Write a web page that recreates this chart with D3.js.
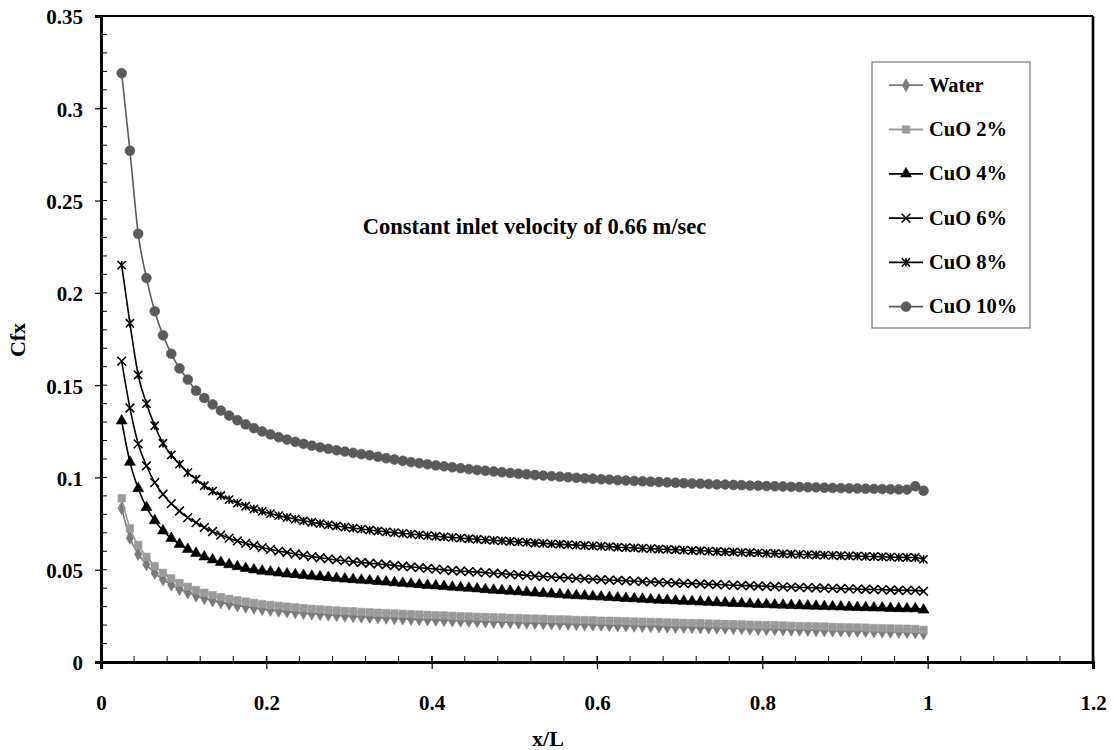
<!DOCTYPE html>
<html>
<head>
<meta charset="utf-8">
<script src="https://cdn.jsdelivr.net/npm/d3@7"></script>
<style>
  html, body { margin: 0; padding: 0; background: #fff; }
  svg { display: block; font-family: "Liberation Serif", "Times New Roman", serif; }
</style>
</head>
<body>
<svg id="chart" width="1114" height="750"></svg>
<script>
// Dimensionless axial position x/L
const xPos = [0.025,0.035,0.045,0.055,0.065,0.075,0.085,0.095,0.105,0.115,
  0.125,0.135,0.145,0.155,0.165,0.175,0.185,0.195,0.205,0.215,
  0.225,0.235,0.245,0.255,0.265,0.275,0.285,0.295,0.305,0.315,
  0.325,0.335,0.345,0.355,0.365,0.375,0.385,0.395,0.405,0.415,
  0.425,0.435,0.445,0.455,0.465,0.475,0.485,0.495,0.505,0.515,
  0.525,0.535,0.545,0.555,0.565,0.575,0.585,0.595,0.605,0.615,
  0.625,0.635,0.645,0.655,0.665,0.675,0.685,0.695,0.705,0.715,
  0.725,0.735,0.745,0.755,0.765,0.775,0.785,0.795,0.805,0.815,
  0.825,0.835,0.845,0.855,0.865,0.875,0.885,0.895,0.905,0.915,
  0.925,0.935,0.945,0.955,0.965,0.975,0.985,0.995];

// Local skin friction coefficient Cfx for each fluid
const water = [0.0833,0.0672,0.0585,0.0528,0.0482,0.0447,0.0418,0.0395,0.0376,0.0359,
  0.0345,0.0333,0.0323,0.0314,0.0306,0.0299,0.0293,0.0287,0.0282,0.0277,
  0.0273,0.0269,0.0265,0.0262,0.0259,0.0256,0.0253,0.0250,0.0248,0.0245,
  0.0243,0.0241,0.0239,0.0237,0.0235,0.0233,0.0231,0.0230,0.0228,0.0226,
  0.0225,0.0223,0.0222,0.0220,0.0219,0.0217,0.0216,0.0215,0.0213,0.0212,
  0.0211,0.0209,0.0208,0.0207,0.0206,0.0204,0.0203,0.0202,0.0201,0.0199,
  0.0198,0.0197,0.0196,0.0195,0.0194,0.0192,0.0191,0.0190,0.0189,0.0188,
  0.0187,0.0186,0.0185,0.0184,0.0183,0.0182,0.0180,0.0179,0.0178,0.0177,
  0.0176,0.0175,0.0174,0.0173,0.0172,0.0171,0.0170,0.0169,0.0168,0.0167,
  0.0166,0.0165,0.0164,0.0163,0.0162,0.0161,0.0160,0.0155];

const cuo2 = [0.0887,0.0724,0.0634,0.0570,0.0520,0.0483,0.0453,0.0428,0.0407,0.0390,
  0.0375,0.0362,0.0351,0.0342,0.0334,0.0327,0.0320,0.0314,0.0309,0.0304,
  0.0300,0.0296,0.0292,0.0288,0.0285,0.0282,0.0279,0.0276,0.0274,0.0271,
  0.0269,0.0267,0.0265,0.0263,0.0261,0.0259,0.0257,0.0255,0.0253,0.0252,
  0.0250,0.0248,0.0247,0.0245,0.0244,0.0242,0.0241,0.0239,0.0238,0.0236,
  0.0235,0.0234,0.0232,0.0231,0.0230,0.0228,0.0227,0.0226,0.0224,0.0223,
  0.0222,0.0221,0.0219,0.0218,0.0217,0.0216,0.0214,0.0213,0.0212,0.0211,
  0.0210,0.0208,0.0207,0.0206,0.0205,0.0204,0.0202,0.0201,0.0200,0.0199,
  0.0198,0.0196,0.0195,0.0194,0.0193,0.0192,0.0190,0.0189,0.0188,0.0187,
  0.0186,0.0184,0.0183,0.0182,0.0181,0.0180,0.0179,0.0174];

const cuo4 = [0.1307,0.1083,0.0940,0.0838,0.0766,0.0711,0.0670,0.0638,0.0611,0.0589,
  0.0570,0.0554,0.0540,0.0528,0.0517,0.0508,0.0500,0.0493,0.0488,0.0483,
  0.0478,0.0474,0.0470,0.0466,0.0462,0.0458,0.0454,0.0450,0.0447,0.0444,
  0.0441,0.0437,0.0434,0.0430,0.0427,0.0423,0.0420,0.0416,0.0413,0.0410,
  0.0406,0.0403,0.0400,0.0397,0.0393,0.0390,0.0387,0.0384,0.0381,0.0378,
  0.0375,0.0372,0.0369,0.0366,0.0363,0.0360,0.0358,0.0355,0.0353,0.0350,
  0.0348,0.0345,0.0343,0.0341,0.0338,0.0336,0.0334,0.0332,0.0330,0.0328,
  0.0326,0.0324,0.0322,0.0320,0.0318,0.0317,0.0315,0.0313,0.0312,0.0310,
  0.0309,0.0307,0.0306,0.0304,0.0303,0.0301,0.0300,0.0299,0.0297,0.0296,
  0.0295,0.0294,0.0293,0.0291,0.0290,0.0289,0.0289,0.0282];

const cuo6 = [0.1630,0.1376,0.1182,0.1063,0.0972,0.0909,0.0858,0.0818,0.0782,0.0755,
  0.0729,0.0707,0.0688,0.0671,0.0656,0.0643,0.0631,0.0620,0.0610,0.0601,
  0.0593,0.0585,0.0578,0.0571,0.0565,0.0559,0.0553,0.0548,0.0543,0.0539,
  0.0535,0.0531,0.0527,0.0523,0.0519,0.0515,0.0511,0.0507,0.0503,0.0499,
  0.0496,0.0493,0.0490,0.0487,0.0484,0.0481,0.0478,0.0475,0.0472,0.0469,
  0.0466,0.0463,0.0461,0.0458,0.0456,0.0453,0.0451,0.0449,0.0446,0.0444,
  0.0442,0.0440,0.0438,0.0436,0.0434,0.0432,0.0430,0.0428,0.0426,0.0425,
  0.0423,0.0421,0.0420,0.0418,0.0416,0.0415,0.0413,0.0412,0.0410,0.0409,
  0.0407,0.0406,0.0404,0.0403,0.0402,0.0400,0.0399,0.0398,0.0396,0.0395,
  0.0394,0.0393,0.0392,0.0390,0.0389,0.0388,0.0388,0.0383];

const cuo8 = [0.2150,0.1835,0.1555,0.1400,0.1280,0.1185,0.1122,0.1072,0.1026,0.0990,
  0.0955,0.0926,0.0902,0.0880,0.0861,0.0844,0.0829,0.0816,0.0804,0.0793,
  0.0783,0.0774,0.0765,0.0757,0.0750,0.0743,0.0737,0.0731,0.0725,0.0720,
  0.0715,0.0710,0.0705,0.0701,0.0697,0.0693,0.0689,0.0685,0.0681,0.0678,
  0.0675,0.0671,0.0668,0.0665,0.0662,0.0659,0.0656,0.0653,0.0651,0.0648,
  0.0645,0.0643,0.0640,0.0638,0.0636,0.0633,0.0631,0.0629,0.0627,0.0625,
  0.0622,0.0620,0.0618,0.0616,0.0614,0.0612,0.0610,0.0608,0.0606,0.0604,
  0.0603,0.0601,0.0599,0.0597,0.0596,0.0594,0.0592,0.0591,0.0589,0.0588,
  0.0586,0.0585,0.0583,0.0582,0.0580,0.0579,0.0578,0.0576,0.0575,0.0574,
  0.0572,0.0571,0.0570,0.0568,0.0567,0.0566,0.0566,0.0556];

const cuo10 = [0.319,0.277,0.232,0.208,0.190,0.177,0.167,0.159,0.153,0.147,
  0.1430,0.1395,0.1362,0.1335,0.1310,0.1287,0.1267,0.1249,0.1233,0.1218,
  0.1205,0.1193,0.1182,0.1172,0.1163,0.1155,0.1147,0.1140,0.1133,0.1126,
  0.1120,0.1112,0.1104,0.1097,0.1090,0.1083,0.1077,0.1071,0.1065,0.1060,
  0.1055,0.1050,0.1045,0.1040,0.1036,0.1032,0.1028,0.1024,0.1020,0.1017,
  0.1013,0.1010,0.1007,0.1004,0.1001,0.0998,0.0995,0.0993,0.0990,0.0988,
  0.0985,0.0983,0.0981,0.0979,0.0977,0.0975,0.0973,0.0971,0.0969,0.0967,
  0.0966,0.0964,0.0962,0.0961,0.0959,0.0958,0.0956,0.0955,0.0953,0.0952,
  0.0951,0.0949,0.0948,0.0947,0.0946,0.0944,0.0943,0.0942,0.0941,0.0940,
  0.0939,0.0938,0.0937,0.0936,0.0935,0.0934,0.0952,0.0928];

const seriesNames = ["Water", "CuO 2%", "CuO 4%", "CuO 6%", "CuO 8%", "CuO 10%"];
const seriesValues = [water, cuo2, cuo4, cuo6, cuo8, cuo10];
const xTicks = [0, 0.2, 0.4, 0.6, 0.8, 1, 1.2];
const yTicks = [0, 0.05, 0.1, 0.15, 0.2, 0.25, 0.3, 0.35];
const titleText = "Constant inlet velocity of 0.66 m/sec";

(function draw() {
  // Marker shapes: stroked crosses are built as custom symbol types
  const crossX = { draw(ctx, size) { const r = Math.sqrt(size) / 2;
    ctx.moveTo(-r, -r); ctx.lineTo(r, r); ctx.moveTo(r, -r); ctx.lineTo(-r, r); } };
  const crossStar = { draw(ctx, size) { const r = Math.sqrt(size) / 2;
    ctx.moveTo(-r, -r); ctx.lineTo(r, r); ctx.moveTo(r, -r); ctx.lineTo(-r, r);
    ctx.moveTo(0, -r); ctx.lineTo(0, r); } };

  const styles = [
    { color: "#7a7a7a", symbol: d3.symbolDiamond, size: 48, fill: true },
    { color: "#9a9a9a", symbol: d3.symbolSquare, size: 56, fill: true },
    { color: "#000000", symbol: d3.symbolTriangle, size: 52, fill: true },
    { color: "#000000", symbol: crossX, size: 76, fill: false },
    { color: "#000000", symbol: crossStar, size: 68, fill: false },
    { color: "#5a5a5a", symbol: d3.symbolCircle, size: 76, fill: true }
  ];

  const svg = d3.select("#chart");
  const pLeft = 101, pRight = 1093, pTop = 16, pBottom = 662;

  const x = d3.scaleLinear().domain([0, 1.2]).range([pLeft, pRight]);
  const y = d3.scaleLinear().domain([0, 0.35]).range([pBottom, pTop]);

  // Frame on the top and right
  svg.append("line").attr("x1", pLeft).attr("x2", pRight).attr("y1", pTop).attr("y2", pTop)
    .attr("stroke", "#000").attr("stroke-width", 2.2);
  svg.append("line").attr("x1", pRight).attr("x2", pRight).attr("y1", pTop).attr("y2", pBottom)
    .attr("stroke", "#000").attr("stroke-width", 2.6);

  // Minor ticks (inside)
  const xMinor = d3.range(0, 1.2001, 0.04);
  const yMinor = d3.range(0, 0.3501, 0.01);
  svg.append("g").selectAll("line").data(xMinor).join("line")
    .attr("x1", d => x(d)).attr("x2", d => x(d))
    .attr("y1", pBottom).attr("y2", pBottom - 6)
    .attr("stroke", "#000").attr("stroke-width", 1);
  svg.append("g").selectAll("line").data(yMinor).join("line")
    .attr("x1", pLeft).attr("x2", pLeft + 6)
    .attr("y1", d => y(d)).attr("y2", d => y(d))
    .attr("stroke", "#000").attr("stroke-width", 1);

  // Axes with major ticks crossing the axis line
  const fmt = d => (d === 0 ? "0" : String(+d.toFixed(2)));
  const xAxis = svg.append("g").attr("transform", `translate(0,${pBottom})`)
    .call(d3.axisBottom(x).tickValues(xTicks).tickFormat(fmt).tickSize(7).tickPadding(26));
  const yAxis = svg.append("g").attr("transform", `translate(${pLeft},0)`)
    .call(d3.axisLeft(y).tickValues(yTicks).tickFormat(fmt).tickSize(6).tickPadding(12));

  [xAxis, yAxis].forEach(g => {
    g.select(".domain").attr("stroke", "#000").attr("stroke-width", 3);
    g.selectAll(".tick line").attr("stroke", "#000").attr("stroke-width", 1.2);
    g.selectAll(".tick text").attr("fill", "#000")
      .style("font-family", "'Liberation Serif', serif")
      .style("font-size", "21px").style("font-weight", "bold");
  });
  xAxis.selectAll(".tick line").attr("y1", -6);
  yAxis.selectAll(".tick text").attr("dy", "0.38em");

  // Series lines and markers
  const line = d3.line().x(d => x(d[0])).y(d => y(d[1])).curve(d3.curveMonotoneX);

  seriesValues.forEach((vals, i) => {
    const st = styles[i];
    const pts = xPos.map((xv, j) => [xv, vals[j]]);
    const g = svg.append("g");
    g.append("path").datum(pts).attr("d", line)
      .attr("fill", "none").attr("stroke", st.color).attr("stroke-width", 1.6);
    g.selectAll("path.mk").data(pts).join("path").attr("class", "mk")
      .attr("transform", d => `translate(${x(d[0])},${y(d[1])})`)
      .attr("d", d3.symbol(st.symbol, st.size))
      .attr("fill", st.fill ? st.color : "none")
      .attr("stroke", st.color)
      .attr("stroke-width", st.fill ? 0.6 : 1.6);
  });

  // Annotation
  svg.append("text").attr("x", 534.5).attr("y", 234).attr("text-anchor", "middle")
    .style("font-size", "22.5px").style("font-weight", "bold").text(titleText);

  // Axis titles
  svg.append("text").attr("x", 548).attr("y", 746).attr("text-anchor", "middle")
    .style("font-size", "22px").style("font-weight", "bold").text("x/L");
  svg.append("text").attr("transform", "translate(25,340) rotate(-90)").attr("text-anchor", "middle")
    .style("font-size", "22px").style("font-weight", "bold").text("Cfx");

  // Legend
  const legend = svg.append("g");
  legend.append("rect").attr("x", 872).attr("y", 62).attr("width", 158).attr("height", 266)
    .attr("fill", "#fff").attr("stroke", "#777").attr("stroke-width", 1.2);
  seriesNames.forEach((name, i) => {
    const st = styles[i];
    const by = 91.7 + 44.3 * i;
    const ly = by - 6.5;
    legend.append("line").attr("x1", 889).attr("x2", 923).attr("y1", ly).attr("y2", ly)
      .attr("stroke", st.color).attr("stroke-width", 1.8);
    legend.append("path").attr("transform", `translate(906,${ly})`)
      .attr("d", d3.symbol(st.symbol, st.size))
      .attr("fill", st.fill ? st.color : "none").attr("stroke", st.color)
      .attr("stroke-width", st.fill ? 0.6 : 1.6);
    legend.append("text").attr("x", 929).attr("y", by)
      .style("font-size", "20.5px").style("font-weight", "bold").text(name);
  });
})();
</script>
</body>
</html>
